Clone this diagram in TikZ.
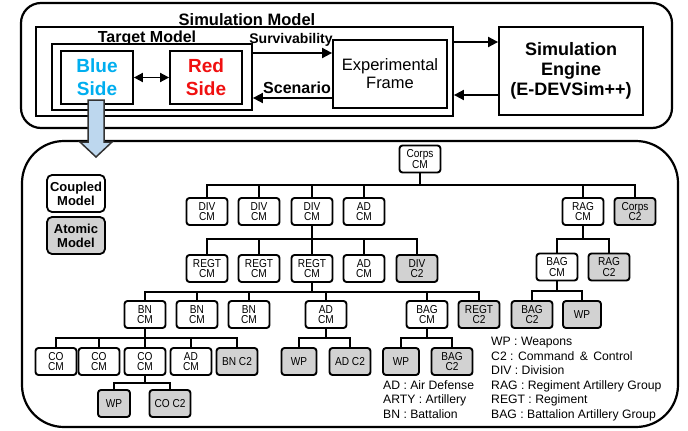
\documentclass[tikz,border=0pt]{standalone}
\usepackage{fontspec}
\setmainfont{Liberation Sans}
\newfontfamily\nodefont[FakeStretch=0.88]{Liberation Sans}
\usetikzlibrary{arrows.meta}
\definecolor{atomgray}{HTML}{D2D2D2}
\definecolor{bluetxt}{HTML}{00AEEF}
\definecolor{redtxt}{HTML}{F01010}
\definecolor{arrowfill}{HTML}{BDD7EE}
\newcommand{\treebus}[5]{% parent, bus y, first child, last child, all children
  \draw[conn] (#1.south) -- (#1.south |- 0,#2);
  \draw[conn] (#3.north |- 0,#2) -- (#4.north |- 0,#2);
  \foreach \c in {#5} {\draw[conn] (\c.north) -- (\c.north |- 0,#2);}
}
\begin{document}
\begin{tikzpicture}[x=1pt,y=-1pt,
  box/.style={draw, line width=1.8pt, inner sep=0pt, fill=white},
  cmnode/.style={draw, line width=1.9pt, rounded corners=3pt, fill=white, minimum width=41pt,
    minimum height=27pt, inner sep=0pt, align=center, font=\nodefont\fontsize{11.5}{10.5}\selectfont},
  amnode/.style={cmnode, fill=atomgray},
  conn/.style={line width=1.9pt, line cap=rect},
  arr/.style={line width=1.8pt, -{Triangle[length=10pt,width=10pt]}},
  arrb/.style={line width=1.8pt, {Triangle[length=9pt,width=9pt]}-{Triangle[length=9pt,width=9pt]}},
  abbr/.style={anchor=base west, inner sep=0pt, font=\fontsize{12.2}{12.2}\selectfont}
]
\useasboundingbox (0,0) rectangle (688,431);

% ---------- top panel ----------
\draw[line width=2.2pt, rounded corners=20pt, fill=white] (21,3) rectangle (672,128);
\node[font=\bfseries\fontsize{16.5}{16.5}\selectfont] (smtitle) at (247,20) {Simulation Model};
\node[box, minimum width=417pt, minimum height=89pt] (simmodel) at (244.5,71.5) {};
\node[font=\bfseries\fontsize{16}{16}\selectfont] (tmtitle) at (147,38) {Target Model};
\node[box, minimum width=200pt, minimum height=66pt] (target) at (152,77) {};
\node[box, minimum width=72pt, minimum height=53pt, align=center, text=bluetxt,
  font=\bfseries\fontsize{19}{23}\selectfont] (blue) at (97,77.5) {Blue\\Side};
\node[box, minimum width=72pt, minimum height=53pt, align=center, text=redtxt,
  font=\bfseries\fontsize{19}{23}\selectfont] (red) at (206,77.5) {Red\\Side};
\node[box, minimum width=114pt, minimum height=68pt, align=center,
  font=\fontsize{16.5}{18}\selectfont] (expf) at (390,74) {Experimental\\Frame};
\node[box, minimum width=144pt, minimum height=88pt, align=center,
  font=\bfseries\fontsize{18}{20}\selectfont] (engine) at (571,71) {Simulation\\Engine\\(E-DEVSim++)};
\node[font=\bfseries\fontsize{14}{14}\selectfont] (surv) at (291,40) {Survivability};
\node[font=\bfseries\fontsize{16}{16}\selectfont] (scen) at (297,88) {Scenario};

\draw[arrb] (blue.east) -- (red.west);
\draw[arr] (target.east |- 0,53) -- (expf.west |- 0,53);
\draw[arr] (expf.west |- 0,98) -- (target.east |- 0,98);
\draw[arr] (simmodel.east |- 0,42) -- (engine.west |- 0,42);
\draw[arr] (engine.west |- 0,95) -- (simmodel.east |- 0,95);

% ---------- lower panel ----------
\draw[line width=2.2pt, rounded corners=42pt] (22,141) rectangle (678,427);

% block arrow
\draw[line width=1.5pt, draw=black!80, fill=arrowfill, line join=miter]
  (88,100) -- (104,100) -- (104,142) -- (112,142) -- (96,157) -- (80,142) -- (88,142) -- cycle;

% legend
\node[box, rounded corners=5pt, minimum width=58pt, minimum height=37pt, align=center,
  font=\bfseries\fontsize{13}{14}\selectfont] (coupled) at (76,193.5) {Coupled\\Model};
\node[box, rounded corners=5pt, minimum width=58pt, minimum height=37pt, align=center, fill=atomgray,
  font=\bfseries\fontsize{13}{14}\selectfont] (atomic) at (76,235.5) {Atomic\\Model};

% tree nodes
\node[cmnode] (corps) at (420,159) {Corps\\CM};

\node[cmnode] (div1) at (207,211.5) {DIV\\CM};
\node[cmnode] (div2) at (259,211.5) {DIV\\CM};
\node[cmnode] (div3) at (312,211.5) {DIV\\CM};
\node[cmnode] (ad1) at (364,211.5) {AD\\CM};
\node[cmnode] (rag) at (583,211.5) {RAG\\CM};
\node[amnode] (corpsc2) at (635,211.5) {Corps\\C2};

\node[cmnode] (regt1) at (207,268.5) {REGT\\CM};
\node[cmnode] (regt2) at (259,268.5) {REGT\\CM};
\node[cmnode] (regt3) at (312,268.5) {REGT\\CM};
\node[cmnode] (ad2) at (364,268.5) {AD\\CM};
\node[amnode] (divc2) at (417,268.5) {DIV\\C2};
\node[cmnode] (bag1) at (557,267) {BAG\\CM};
\node[amnode] (ragc2) at (609,267) {RAG\\C2};

\node[cmnode] (bn1) at (145,314.5) {BN\\CM};
\node[cmnode] (bn2) at (197,314.5) {BN\\CM};
\node[cmnode] (bn3) at (249,314.5) {BN\\CM};
\node[cmnode] (ad3) at (326,314.5) {AD\\CM};
\node[cmnode] (bag2) at (427,314.5) {BAG\\CM};
\node[amnode] (regtc2) at (479,314.5) {REGT\\C2};
\node[amnode] (bagc2a) at (532,314.5) {BAG\\C2};
\node[amnode, minimum width=38pt] (wpa) at (582,314.5) {WP};

\node[cmnode] (co1) at (56,361.5) {CO\\CM};
\node[cmnode] (co2) at (99,361.5) {CO\\CM};
\node[cmnode] (co3) at (145,361.5) {CO\\CM};
\node[cmnode] (ad4) at (191,361.5) {AD\\CM};
\node[amnode] (bnc2) at (237,361.5) {BN C2};
\node[amnode, minimum width=35pt] (wpb) at (299,361.5) {WP};
\node[amnode] (adc2) at (350,361.5) {AD C2};
\node[amnode, minimum width=36pt] (wpc) at (401,361.5) {WP};
\node[amnode] (bagc2b) at (452,361.5) {BAG\\C2};

\node[amnode, minimum width=32pt] (wpd) at (114,403.5) {WP};
\node[amnode] (coc2) at (170,403.5) {CO C2};

% tree connectors
\treebus{corps}{185}{div1}{corpsc2}{div1,div2,div3,ad1,rag,corpsc2}
\treebus{div3}{239}{regt1}{divc2}{regt1,regt2,regt3,ad2,divc2}
\treebus{rag}{239}{bag1}{ragc2}{bag1,ragc2}
\treebus{regt3}{292}{bn1}{regtc2}{bn1,bn2,bn3,ad3,bag2,regtc2}
\treebus{bag1}{291}{bagc2a}{wpa}{bagc2a,wpa}
\treebus{bn1}{338}{co1}{bnc2}{co1,co2,co3,ad4,bnc2}
\treebus{ad3}{338}{wpb}{adc2}{wpb,adc2}
\treebus{bag2}{338}{wpc}{bagc2b}{wpc,bagc2b}
\treebus{co3}{383}{wpd}{coc2}{wpd,coc2}

% abbreviations
\node[abbr] (abwp) at (491,345.5) {WP : Weapons};
\node[abbr] (abc2) at (491,360.1) {C2 : Command \,\&\, Control};
\node[abbr] (abdiv) at (491,374.7) {DIV : Division};
\node[abbr] (abrag) at (491,389.3) {RAG : Regiment Artillery Group};
\node[abbr] (abregt) at (491,403.9) {REGT : Regiment};
\node[abbr] (abbag) at (491,418.5) {BAG : Battalion Artillery Group};
\node[abbr] (abad) at (383,389.3) {AD : Air Defense};
\node[abbr] (abarty) at (383,403.9) {ARTY : Artillery};
\node[abbr] (abbn) at (383,418.5) {BN : Battalion};
\end{tikzpicture}
\end{document}
